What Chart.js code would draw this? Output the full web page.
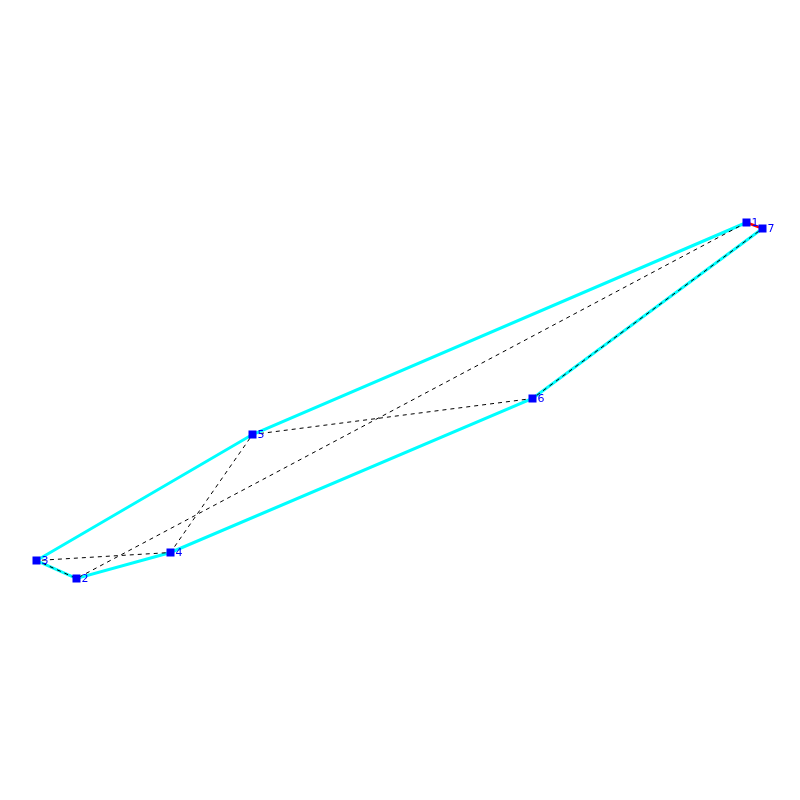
<!DOCTYPE html>
<html><head><meta charset="utf-8">
<style>html,body{margin:0;padding:0;background:#fff}#w{width:800px;height:800px}canvas{display:block}</style>
<script src="https://cdn.jsdelivr.net/npm/chart.js@4"></script></head>
<body><div id="w"><canvas id="c" width="800" height="800"></canvas></div>
<script>
const nodeLabels = ["1","2","3","4","5","6","7"];
const nodeX = [746.5,76.5,36.5,170.5,252.5,532.5,762.5];
const nodeY = [577.5,221.5,239.5,247.5,365.5,401.5,571.5];
const hullPath = ["1","5","3","2","4","6","7"];
const closingEdge = ["7","1"];
const dashedPath = ["1","2","3","4","5","6","7"];
const pts = ids => ids.map(id => { const i = nodeLabels.indexOf(id); return {x:nodeX[i], y:nodeY[i]}; });
const labelPlugin = {
  id:'nodeLabels',
  afterDatasetsDraw(chart){
    const ctx = chart.ctx, meta = chart.getDatasetMeta(0);
    ctx.save();
    ctx.font = '11px "DejaVu Sans"';
    ctx.fillStyle = '#0000ff';
    ctx.textBaseline = 'middle';
    meta.data.forEach((p,i)=>ctx.fillText(nodeLabels[i], p.x+5, p.y+0.5));
    ctx.restore();
  }
};
new Chart(document.getElementById('c'),{
  type:'scatter',
  data:{datasets:[
    {data:pts(nodeLabels),showLine:false,pointStyle:'rect',pointRadius:5.66,pointHoverRadius:5.66,backgroundColor:'#0000ff',borderColor:'#0000ff',borderWidth:0,order:0},
    {data:pts(dashedPath),showLine:true,borderColor:'#000000',borderWidth:1,borderDash:[4,4],pointRadius:0,order:1},
    {data:pts(closingEdge),showLine:true,borderColor:'#ff0000',borderWidth:2.5,pointRadius:0,order:2},
    {data:pts(hullPath),showLine:true,borderColor:'#00ffff',borderWidth:3,pointRadius:0,order:3}
  ]},
  options:{
    responsive:false,animation:false,
    layout:{padding:0,autoPadding:false},
    plugins:{legend:{display:false},tooltip:{enabled:false},title:{display:false}},
    scales:{
      x:{type:'linear',min:0,max:800,display:false},
      y:{type:'linear',min:0,max:800,display:false}
    }
  },
  plugins:[labelPlugin]
});
</script></body></html>
